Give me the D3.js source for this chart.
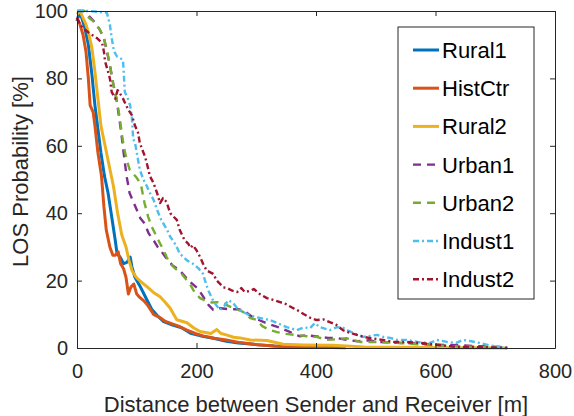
<!DOCTYPE html>
<html>
<head>
<meta charset="utf-8">
<script src="https://cdn.jsdelivr.net/npm/d3@7"></script>
<style>
  body { margin: 0; background: #fff; }
  svg { font-family: 'Liberation Sans', Arial, sans-serif; }
</style>
</head>
<body>
<div id="chart"></div>
<script>
// series names in legend order
const seriesNames = ['Rural1', 'HistCtr', 'Rural2', 'Urban1', 'Urban2', 'Indust1', 'Indust2'];

// [distance (m), LOS probability (%)]
const rural1 = [[0, 97], [3, 99], [8, 98], [13, 95], [19, 90], [25, 81], [30, 72], [35, 65], [40, 58], [46, 51],
  [52, 46], [58, 39], [64, 32], [67, 28], [72, 27], [78, 25], [84, 25.5], [89, 27], [92, 24], [97, 21], [105, 18.5],
  [115, 15], [125, 11.5], [135, 9.5], [145, 7.8], [160, 6.8], [175, 6], [190, 4.4], [210, 3.5], [230, 2.8], [250, 2],
  [270, 1.5], [300, 1], [330, 0.6], [360, 0.4], [385, 0.6], [400, 0.3]];

const histCtr = [[0, 98], [5, 96], [10, 93], [15, 88], [19, 80], [22, 72], [27, 70], [30, 66], [35, 58], [41, 51],
  [45, 42], [49, 35], [55, 30], [60, 27.5], [64, 27.5], [69, 28.5], [73, 25], [78, 23.5], [82, 21], [86, 16], [90, 18],
  [95, 19], [100, 16], [105, 15], [112, 14], [119, 12.5], [128, 10], [139, 9], [147, 8], [156, 7.4], [170, 6.5],
  [184, 5.3], [198, 4.3], [211, 3.6], [230, 2.9], [250, 2.4], [273, 1.6], [300, 1], [330, 0.6], [360, 0.4],
  [400, 0.2], [450, 0.1]];

const rural2 = [[0, 99], [5, 100], [10, 98], [15, 96], [20, 93], [25, 89], [30, 82], [35, 74], [40, 66], [47, 60],
  [54, 54], [61, 48], [68, 40], [75, 33.5], [78, 32], [82, 30], [87, 26], [92, 23], [99, 21], [108, 19.5], [117, 18.2],
  [128, 16.5], [139, 15.2], [148, 13.5], [156, 11.8], [167, 8.4], [184, 7.5], [195, 6], [206, 4.9], [215, 4.6],
  [224, 4.3], [234, 5.5], [241, 4.3], [250, 3.9], [262, 3.2], [273, 3], [290, 2.4], [318, 2.2], [345, 1.1], [380, 0.9],
  [428, 0.8], [480, 0.3], [550, 0.2], [620, 0.1], [720, 0]];

const urban1 = [[0, 100], [12, 100], [20, 98.5], [28, 97], [38, 94.5], [45, 92], [50, 88], [55, 84], [61, 78],
  [66, 74], [70, 69], [74, 64], [78, 58], [83, 51], [88, 46], [94, 43.5], [100, 41], [106, 38.5], [113, 37], [120, 34],
  [128, 32], [135, 30], [142, 28.5], [150, 26.5], [160, 24.5], [172, 23], [182, 21], [190, 19.5], [203, 17.5],
  [212, 15], [220, 12.8], [228, 11.3], [240, 11.8], [255, 11.5], [270, 11.5], [280, 11], [295, 9], [315, 7.5],
  [340, 6], [356, 4.8], [372, 3.5], [385, 3.8], [401, 3.4], [420, 3], [434, 3], [451, 2.4], [470, 2], [490, 2.3],
  [502, 1.8], [530, 1.6], [560, 1.4], [600, 1], [640, 0.8], [680, 0.5], [720, 0.2]];

const urban2 = [[0, 100], [12, 100], [20, 98], [27, 97], [38, 94.5], [45, 92], [50, 88.5], [55, 84], [61, 78],
  [66, 74], [70, 70], [74, 65], [78, 60], [83, 56], [88, 53], [95, 51.5], [100, 50.5], [107, 48.5], [113, 43],
  [119, 39], [125, 36], [132, 33.5], [139, 31], [145, 29], [150, 27], [156, 25], [165, 23.5], [175, 22], [189, 19],
  [197, 16.5], [206, 14.8], [215, 14], [226, 13.5], [236, 13.6], [245, 13.4], [253, 12.5], [261, 11.9], [270, 11.3],
  [278, 10.7], [290, 8.9], [301, 8.3], [310, 6.5], [323, 5.3], [335, 4.7], [350, 4.2], [365, 3.9], [385, 3.5],
  [401, 3.3], [418, 2.4], [435, 2.6], [451, 2.9], [474, 1.8], [500, 1.8], [540, 1.5], [580, 1], [620, 0.6],
  [660, 0.4], [720, 0.1]];

const indust1 = [[0, 100], [22, 100], [44, 99.6], [50, 99.5], [55, 96], [58, 92], [62, 88], [67, 86.5], [72, 86],
  [77, 85.5], [80, 76], [85, 74], [89, 72], [92, 68], [94, 62], [97, 61], [100, 58], [105, 53], [111, 50], [117, 48],
  [122, 46], [128, 44], [134, 41], [141, 38], [151, 35], [156, 33], [162, 31.5], [167, 30], [172, 28], [184, 26],
  [194, 25], [203, 23.7], [211, 22], [216, 19], [220, 17], [224, 15.5], [228, 14], [234, 12.5], [239, 11.3],
  [247, 12.5], [253, 14.2], [261, 13.4], [268, 11.9], [278, 10.7], [290, 9.6], [306, 8.9], [323, 8.3], [335, 7.4],
  [351, 6.2], [368, 5.3], [380, 6.1], [390, 5.9], [398, 7.4], [406, 6.2], [423, 5.3], [435, 6.2], [445, 6],
  [452, 5.3], [462, 4.5], [479, 3.3], [492, 3.6], [502, 3.9], [512, 3.3], [524, 3], [536, 2.4], [552, 2.4],
  [570, 1.8], [591, 1.5], [602, 2.4], [619, 1.8], [635, 1.5], [646, 2.4], [660, 2], [674, 1.5], [690, 0.8], [720, 0]];

const indust2 = [[0, 98], [5, 96], [10, 95], [20, 93.5], [33, 92], [42, 90.5], [45, 88], [47, 85], [52, 82],
  [55, 80], [58, 76], [64, 74], [68, 76.5], [72, 75.5], [77, 74], [85, 71], [92, 69], [97, 66], [102, 64], [105, 61],
  [109, 59], [114, 56.7], [118, 54], [122, 51], [128, 49], [134, 46], [139, 43], [144, 44.5], [150, 43.3], [156, 40],
  [167, 38], [172, 35], [180, 32], [186, 31], [190, 29.7], [194, 30.5], [200, 29], [206, 27], [211, 25], [217, 23],
  [228, 22], [234, 20], [245, 18], [251, 17.8], [260, 17], [268, 16.6], [275, 17.8], [281, 16.6], [290, 17],
  [296, 17.5], [306, 16], [318, 14.8], [330, 14.2], [340, 13.6], [350, 13], [360, 12], [368, 11.3], [380, 10],
  [390, 9], [401, 8.3], [412, 8.5], [423, 7.7], [433, 7], [445, 5.3], [457, 4.5], [468, 3.9], [480, 3.3], [495, 2.8],
  [512, 2.4], [530, 1.8], [550, 1.8], [574, 1.5], [590, 1.2], [605, 0.9], [620, 0.6], [636, 0.3], [660, 0.3],
  [690, 0.2], [720, 0]];

const xTicks = [0, 200, 400, 600, 800];
const yTicks = [0, 20, 40, 60, 80, 100];

class LosChart {
  constructor(_config) {
    this.config = {
      parentElement: _config.parentElement,
      containerWidth: 574,
      containerHeight: 416,
      margin: { top: 11, right: 19, bottom: 68, left: 77 },
    };
    this.series = [
      { name: seriesNames[0], data: rural1, color: '#0072BD', width: 3, dash: null },
      { name: seriesNames[1], data: histCtr, color: '#D95319', width: 3, dash: null },
      { name: seriesNames[2], data: rural2, color: '#EDB120', width: 3, dash: null },
      { name: seriesNames[3], data: urban1, color: '#7E2F8E', width: 2.4, dash: '8,6' },
      { name: seriesNames[4], data: urban2, color: '#77AC30', width: 2.4, dash: '8,6' },
      { name: seriesNames[5], data: indust1, color: '#4DBEEE', width: 2.4, dash: '6,3,2,3' },
      { name: seriesNames[6], data: indust2, color: '#A2142F', width: 2.4, dash: '6,3,2,3' },
    ];
    this.initVis();
  }

  initVis() {
    const vis = this;
    const m = vis.config.margin;
    vis.width = vis.config.containerWidth - m.left - m.right;
    vis.height = vis.config.containerHeight - m.top - m.bottom;

    vis.svg = d3.select(vis.config.parentElement).append('svg')
      .attr('width', vis.config.containerWidth)
      .attr('height', vis.config.containerHeight);

    vis.chartArea = vis.svg.append('g')
      .attr('transform', `translate(${m.left},${m.top})`);

    vis.xScale = d3.scaleLinear().domain([0, 800]).range([0, vis.width]);
    vis.yScale = d3.scaleLinear().domain([0, 100]).range([vis.height, 0]);

    vis.line = d3.line()
      .x((d) => vis.xScale(d[0]))
      .y((d) => vis.yScale(d[1]));

    vis.renderVis();
  }

  renderVis() {
    const vis = this;
    const axisColor = '#262626';

    // curves
    vis.chartArea.selectAll('.curve')
      .data(vis.series)
      .join('path')
      .attr('class', 'curve')
      .attr('d', (d) => vis.line(d.data))
      .attr('fill', 'none')
      .attr('stroke', (d) => d.color)
      .attr('stroke-width', (d) => d.width)
      .attr('stroke-dasharray', (d) => d.dash)
      .attr('stroke-linejoin', 'round');

    // axes, ticks pointing inward (box on)
    const styleAxis = (g) => {
      g.select('.domain').attr('stroke', axisColor).attr('stroke-width', 1);
      g.selectAll('.tick line').attr('stroke', axisColor).attr('stroke-width', 1);
      g.selectAll('.tick text').attr('fill', axisColor).style('font-size', '20px');
      g.attr('font-family', null);
    };

    vis.chartArea.append('g')
      .attr('transform', `translate(0,${vis.height})`)
      .call(d3.axisBottom(vis.xScale).tickValues(xTicks).tickSizeInner(-5).tickSizeOuter(0).tickPadding(16))
      .call(styleAxis);
    vis.chartArea.append('g')
      .call(d3.axisTop(vis.xScale).tickValues(xTicks).tickSizeInner(-5).tickSizeOuter(0).tickFormat(''))
      .call(styleAxis);
    vis.chartArea.append('g')
      .call(d3.axisLeft(vis.yScale).tickValues(yTicks).tickSizeInner(-5).tickSizeOuter(0).tickPadding(9))
      .call(styleAxis);
    vis.chartArea.append('g')
      .attr('transform', `translate(${vis.width},0)`)
      .call(d3.axisRight(vis.yScale).tickValues(yTicks).tickSizeInner(-5).tickSizeOuter(0).tickFormat(''))
      .call(styleAxis);

    // axis labels
    vis.chartArea.append('text')
      .attr('x', vis.width / 2)
      .attr('y', vis.height + 64)
      .attr('text-anchor', 'middle')
      .attr('fill', axisColor)
      .style('font-size', '22px')
      .text('Distance between Sender and Receiver [m]');

    vis.chartArea.append('text')
      .attr('transform', `translate(-49,${vis.height / 2 - 8}) rotate(-90)`)
      .attr('text-anchor', 'middle')
      .attr('fill', axisColor)
      .style('font-size', '22px')
      .text('LOS Probability [%]');

    // legend
    const legend = vis.svg.append('g').attr('transform', 'translate(398,27)');
    legend.append('rect')
      .attr('width', 136)
      .attr('height', 272)
      .attr('fill', '#fff')
      .attr('stroke', axisColor)
      .attr('stroke-width', 1);

    const items = legend.selectAll('.item')
      .data(vis.series)
      .join('g')
      .attr('class', 'item')
      .attr('transform', (d, i) => `translate(0,${23 + i * 38.2})`);

    items.append('line')
      .attr('x1', 15)
      .attr('x2', 41)
      .attr('stroke', (d) => d.color)
      .attr('stroke-width', (d) => d.width)
      .attr('stroke-dasharray', (d) => d.dash);

    items.append('text')
      .attr('x', 44)
      .attr('y', 8)
      .attr('fill', '#000')
      .style('font-size', '22px')
      .text((d) => d.name);
  }
}

new LosChart({ parentElement: '#chart' });
</script>
</body>
</html>
